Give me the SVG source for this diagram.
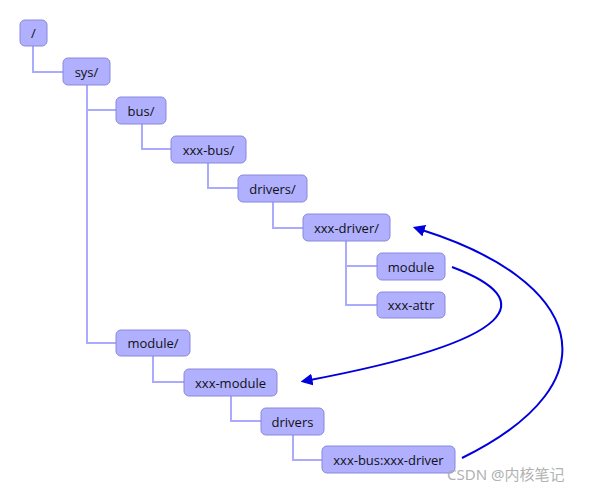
<svg xmlns="http://www.w3.org/2000/svg" width="613" height="493" viewBox="0 0 613 493">
<style>
.n rect{fill:#b0b0ff;stroke:#8888dd;stroke-width:1}
.n text{font-family:"Open Sans","Noto Sans",sans-serif;font-size:13px;fill:#111;text-anchor:middle;dominant-baseline:central}
.c path{fill:none;stroke:#aaaaff;stroke-width:2}
.a path{fill:none;stroke:#0000dd;stroke-width:2}
</style>
<defs><marker id="ah" viewBox="0 0 10 10" refX="2" refY="5" markerWidth="6" markerHeight="6" orient="auto-start-reverse"><path d="M0,0L10,5L0,10z" fill="#0000dd"/></marker></defs>
<rect width="613" height="493" fill="#fff"/>
<g class="c">
<path d="M33,46V72H63"/>
<path d="M87,85V343H116M87,110H116"/>
<path d="M142,124V149H171"/>
<path d="M208,163V188H238"/>
<path d="M273,202V228H303"/>
<path d="M346,241V305H377M346,266H377"/>
<path d="M153,356V382H184"/>
<path d="M231,396V421H261"/>
<path d="M293,435V460H322"/>
</g>
<g class="n" id="n-root"><rect x="20" y="20" width="27" height="26" rx="5"/><text x="33.5" y="33">/</text></g>
<g class="n" id="n-sys"><rect x="63" y="58" width="47" height="27" rx="5"/><text x="86.5" y="71.5">sys/</text></g>
<g class="n" id="n-bus"><rect x="116" y="97" width="50" height="27" rx="5"/><text x="141" y="110.5">bus/</text></g>
<g class="n" id="n-xxxbus"><rect x="171" y="136" width="75" height="27" rx="5"/><text x="208.5" y="149.5">xxx-bus/</text></g>
<g class="n" id="n-drivers"><rect x="238" y="175" width="69" height="27" rx="5"/><text x="272.5" y="188.5">drivers/</text></g>
<g class="n" id="n-xxxdriver"><rect x="303" y="214" width="87" height="27" rx="5"/><text x="346.5" y="227.5">xxx-driver/</text></g>
<g class="n" id="n-module"><rect x="377" y="253" width="68" height="27" rx="5"/><text x="411" y="266.5">module</text></g>
<g class="n" id="n-attr"><rect x="377" y="292" width="68" height="26" rx="5"/><text x="411" y="305">xxx-attr</text></g>
<g class="n" id="n-module2"><rect x="116" y="330" width="74" height="26" rx="5"/><text x="153" y="343">module/</text></g>
<g class="n" id="n-xxxmodule"><rect x="184" y="369" width="93" height="27" rx="5"/><text x="230.5" y="382.5">xxx-module</text></g>
<g class="n" id="n-drivers2"><rect x="261" y="408" width="63" height="27" rx="5"/><text x="292.5" y="421.5">drivers</text></g>
<g class="n" id="n-busdrv"><rect x="322" y="446" width="133" height="27" rx="5"/><text x="388.5" y="459.5">xxx-bus:xxx-driver</text></g>
<g class="a">
<path d="M452,267C540,300 520,340 310,380" marker-end="url(#ah)"/>
<path d="M462,458C620,380 580,280 422,230" marker-end="url(#ah)"/>
</g>
<text x="447" y="480" font-family="'Noto Sans','Noto Sans CJK SC',sans-serif" font-size="15" fill="#aaa" opacity="0.9">CSDN @内核笔记</text>
</svg>
